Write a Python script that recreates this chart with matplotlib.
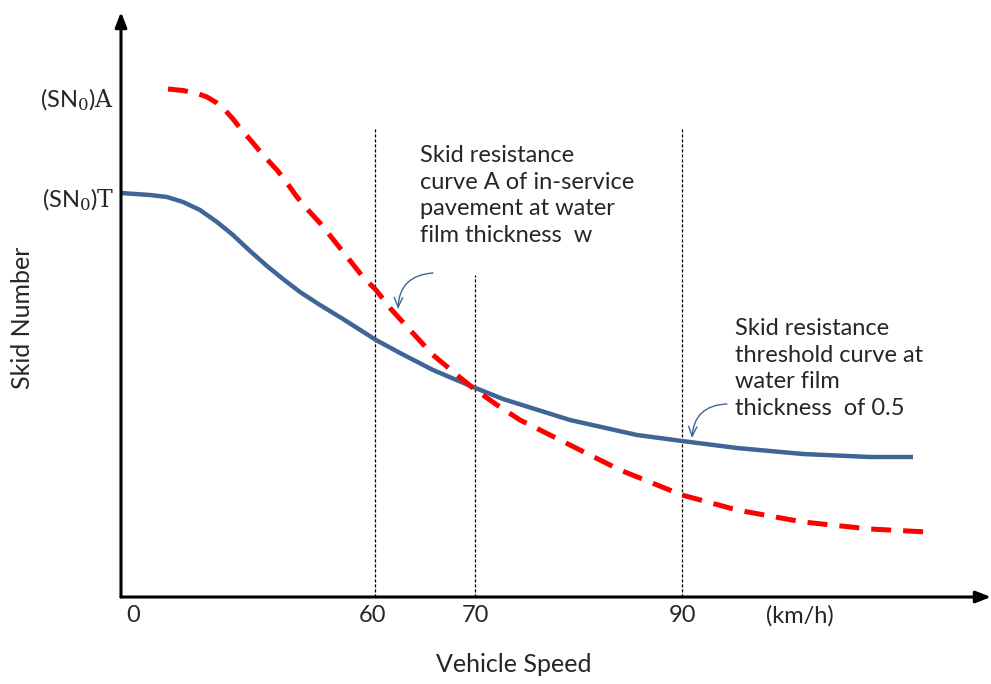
import numpy as np
import matplotlib
matplotlib.use("Agg")
from matplotlib import pyplot as plt

plt.rcParams['font.family'] = ['Lato', 'DejaVu Sans']
plt.rcParams['mathtext.fontset'] = 'dejavuserif'

# schematic positions along the speed axis (axis units, not km/h)
threshold_x = [0, 29, 46, 62, 79, 96, 112, 129, 146, 162, 179, 199, 222, 255, 279, 312, 352,
               382, 449, 516, 561, 616, 682, 749, 792]
threshold_sn = [404, 402, 400, 395, 387, 375, 362, 346, 331, 318, 305, 292, 278, 257, 244, 227, 210,
                198, 177, 162, 156, 149, 143, 140, 140]

curveA_x = [47, 62, 75, 86, 96, 104, 112, 119, 132, 142, 156, 166, 176, 187, 199, 219, 242, 255, 269,
            289, 312, 336, 352, 376, 399, 449, 499, 561, 616, 682, 749, 806]
curveA_sn = [508, 506.5, 504, 500, 494, 487, 478, 469, 454, 442, 427, 414, 400, 387, 374, 349, 320, 307,
             289, 267, 242, 222, 209, 192, 177, 152, 127, 102, 87, 75, 68, 65]

# reference speeds: position on axis, top of guide line
guide_x = [254, 354, 561]
guide_top = [469, 322, 470]

xtick_pos = [12, 252, 354, 561, 679]
xtick_labels = ['0', '60', '70', '90', '(km/h)']
ytick_pos = [500, 400]
ytick_labels = [r'(SN$_0$)$\mathrm{A}$', r'(SN$_0$)$\mathrm{T}$']

blue = '#3f6597'
txt = '#262626'

fig = plt.figure(figsize=(9.91, 6.84), dpi=100)
ax = fig.add_axes([121 / 991, 87 / 684, 870 / 991, 585 / 684])
ax.set_xlim(0, 870)
ax.set_ylim(0, 585)
for s in ax.spines.values():
    s.set_visible(False)

# axes with arrow heads
for tip in [(1, 0), (0, 1)]:
    ax.annotate('', xy=tip, xytext=(0, 0), xycoords='axes fraction',
                arrowprops=dict(arrowstyle='-|>,head_length=0.9,head_width=0.35', color='black', lw=2.2,
                                shrinkA=0, shrinkB=0), annotation_clip=False)

for gx, gt in zip(guide_x, guide_top):
    ax.plot([gx, gx], [0, gt], color='black', lw=0.9, dashes=(2.5, 1.5))

ax.plot(threshold_x, threshold_sn, color=blue, lw=3.2, solid_capstyle='butt', solid_joinstyle='round')
ax.plot(curveA_x, curveA_sn, color='#ff0000', lw=3.6, dashes=(4, 2.4))

ax.set_xticks(xtick_pos)
ax.set_xticklabels(xtick_labels, fontsize=17, color=txt)
ax.set_yticks(ytick_pos)
ax.set_yticklabels(ytick_labels, fontsize=17, color=txt)
ax.tick_params(length=0, pad=6)
ax.tick_params(axis='y', pad=5)

ax.set_xlabel('Vehicle Speed', fontsize=18, color=txt)
ax.xaxis.set_label_coords(0.452, -0.096)
ax.set_ylabel('Skid Number', fontsize=18, color=txt)
ax.yaxis.set_label_coords(-0.1, 0.477)

ax.text(299, 452, 'Skid resistance\ncurve A of in-service\npavement at water\nfilm thickness  w',
        fontsize=17, va='top', ha='left', linespacing=1.33, color=txt)
ax.text(614, 279, 'Skid resistance\nthreshold curve at\nwater film\nthickness  of 0.5',
        fontsize=17, va='top', ha='left', linespacing=1.33, color=txt)

ax.annotate('', xy=(277, 288), xytext=(312, 324),
            arrowprops=dict(arrowstyle='->,head_length=0.7,head_width=0.3', color=blue, lw=1,
                            connectionstyle='arc3,rad=0.45', shrinkA=0, shrinkB=0))
ax.annotate('', xy=(571, 159), xytext=(606, 193),
            arrowprops=dict(arrowstyle='->,head_length=0.7,head_width=0.3', color=blue, lw=1,
                            connectionstyle='arc3,rad=0.45', shrinkA=0, shrinkB=0))

plt.savefig('out.png', dpi=100)
